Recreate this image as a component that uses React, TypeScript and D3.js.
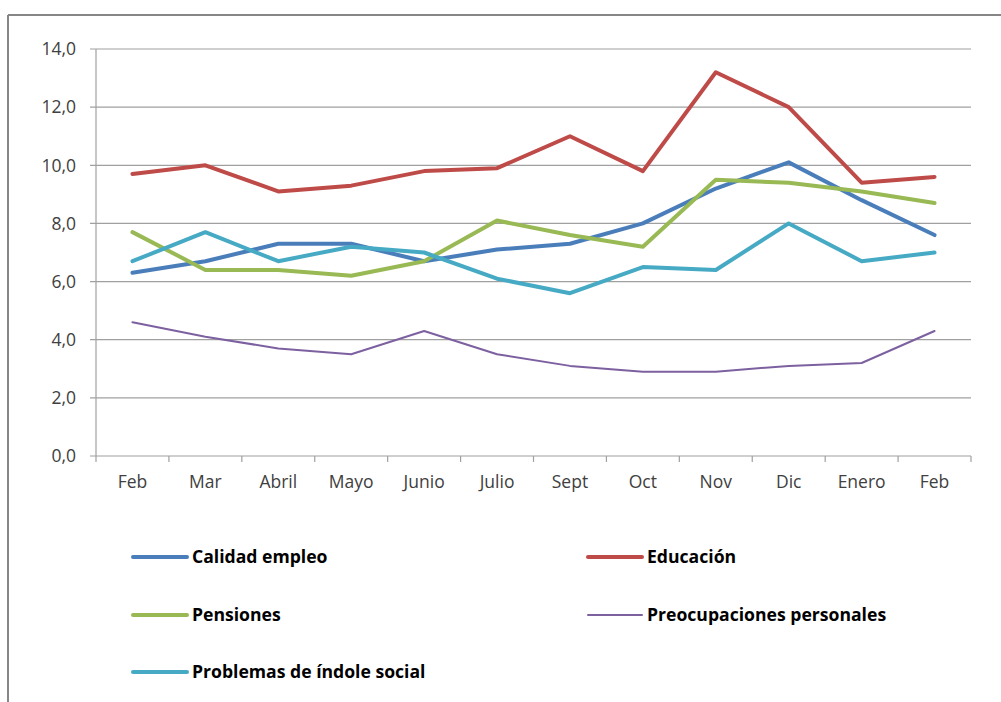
import React from "react";
import * as d3 from "d3";

const categories = ["Feb", "Mar", "Abril", "Mayo", "Junio", "Julio", "Sept", "Oct", "Nov", "Dic", "Enero", "Feb "];
const yTicks = [0, 2, 4, 6, 8, 10, 12, 14];

const calidadEmpleo = [6.3, 6.7, 7.3, 7.3, 6.7, 7.1, 7.3, 8.0, 9.2, 10.1, 8.8, 7.6];
const educacion = [9.7, 10.0, 9.1, 9.3, 9.8, 9.9, 11.0, 9.8, 13.2, 12.0, 9.4, 9.6];
const pensiones = [7.7, 6.4, 6.4, 6.2, 6.7, 8.1, 7.6, 7.2, 9.5, 9.4, 9.1, 8.7];
const preocupaciones = [4.6, 4.1, 3.7, 3.5, 4.3, 3.5, 3.1, 2.9, 2.9, 3.1, 3.2, 4.3];
const problemasSocial = [6.7, 7.7, 6.7, 7.2, 7.0, 6.1, 5.6, 6.5, 6.4, 8.0, 6.7, 7.0];

const series = [
  { name: "Calidad empleo", values: calidadEmpleo, color: "#4A7EBB", width: 4 },
  { name: "Educación", values: educacion, color: "#BE4B48", width: 4 },
  { name: "Pensiones", values: pensiones, color: "#98B954", width: 4 },
  { name: "Preocupaciones personales", values: preocupaciones, color: "#7D60A0", width: 2 },
  { name: "Problemas de índole social", values: problemasSocial, color: "#46AAC5", width: 4 },
];

const W = 1001;
const H = 702;
const left = 96;
const right = 971;
const top = 49;
const bottom = 456;

export default function App() {
  const x = d3.scaleBand<string>().domain(categories).range([left, right]).padding(0);
  const y = d3.scaleLinear().domain([0, 14]).range([bottom, top]);
  const line = d3
    .line<number>()
    .x((_, i) => (x(categories[i]) as number) + x.bandwidth() / 2)
    .y((d) => y(d));
  const font = "'Open Sans', sans-serif";
  const tickX = categories.map((c) => x(c) as number).concat([right]);

  const legendPos = [
    { lx: 133, ly: 557 },
    { lx: 588, ly: 557 },
    { lx: 133, ly: 615 },
    { lx: 588, ly: 615 },
    { lx: 133, ly: 672 },
  ];

  return (
    <svg width={W} height={H} style={{ position: "absolute", left: 0, top: 0, background: "#fff" }}>
      <rect x={0} y={0} width={W} height={H} fill="#fff" />
      {/* outer border */}
      <line x1={8} y1={15} x2={W} y2={15} stroke="#868686" strokeWidth={2} />
      <line x1={8} y1={15} x2={8} y2={H} stroke="#868686" strokeWidth={2} />
      {/* gridlines */}
      {yTicks.map((t) => (
        <line key={"g" + t} x1={left - 6} x2={right} y1={y(t)} y2={y(t)} stroke="#A0A0A0" strokeWidth={1.2} />
      ))}
      {/* y axis */}
      <line x1={left} x2={left} y1={top} y2={bottom} stroke="#A0A0A0" strokeWidth={1.2} />
      {/* x ticks */}
      {tickX.map((tx, i) => (
        <line key={"t" + i} x1={tx} x2={tx} y1={bottom} y2={bottom + 6} stroke="#A0A0A0" strokeWidth={1.2} />
      ))}
      {yTicks.map((t) => (
        <text key={"yl" + t} x={76} y={y(t)} dy="0.36em" textAnchor="end" fontFamily={font} fontSize={17.5} fill="#404040">
          {t.toFixed(1).replace(".", ",")}
        </text>
      ))}
      {categories.map((c) => (
        <text
          key={"xl" + c}
          x={(x(c) as number) + x.bandwidth() / 2}
          y={482}
          dy="0.36em"
          textAnchor="middle"
          fontFamily={font}
          fontSize={17.5}
          fill="#404040"
        >
          {c.trim()}
        </text>
      ))}
      {series.map((s) => (
        <path
          key={s.name}
          d={line(s.values) || ""}
          fill="none"
          stroke={s.color}
          strokeWidth={s.width}
          strokeLinejoin="round"
          strokeLinecap="round"
        />
      ))}
      {series.map((s, i) => (
        <g key={"lg" + s.name}>
          <line
            x1={legendPos[i].lx}
            x2={legendPos[i].lx + 54}
            y1={legendPos[i].ly}
            y2={legendPos[i].ly}
            stroke={s.color}
            strokeWidth={s.width}
            strokeLinecap="round"
          />
          <text
            x={legendPos[i].lx + 59}
            y={legendPos[i].ly}
            dy="0.36em"
            fontFamily={font}
            fontSize={17.6}
            fontWeight="bold"
            fill="#000"
          >
            {s.name}
          </text>
        </g>
      ))}
    </svg>
  );
}
